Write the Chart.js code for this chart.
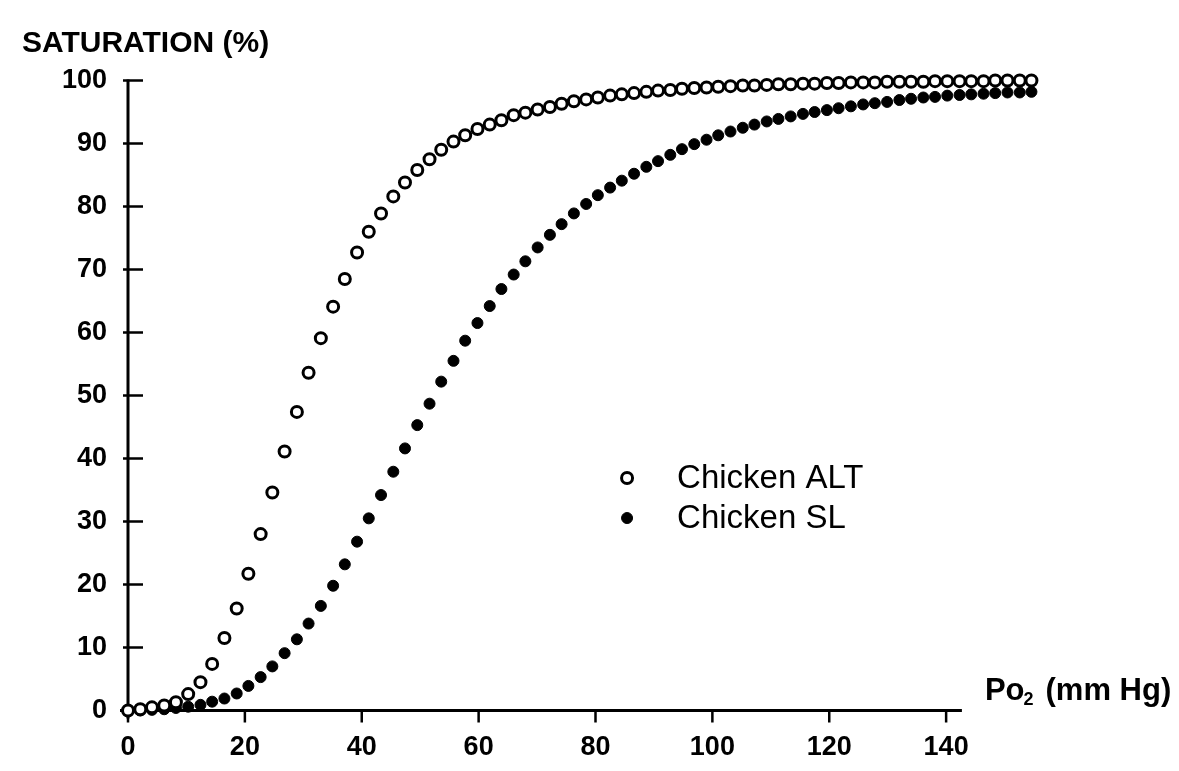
<!DOCTYPE html>
<html>
<head>
<meta charset="utf-8">
<script src="https://cdn.jsdelivr.net/npm/chart.js@4"></script>
<style>
  html, body { margin: 0; padding: 0; background: #fff; }
</style>
</head>
<body>
<canvas id="myChart" width="1179" height="771"></canvas>
<script>
// Po2 (mm Hg) of each plotted point
const po2 = [
  0, 2.1, 4.1, 6.2, 8.2, 10.3, 12.4, 14.4, 16.5, 18.6,
  20.6, 22.7, 24.7, 26.8, 28.9, 30.9, 33.0, 35.1, 37.1, 39.2,
  41.2, 43.3, 45.4, 47.4, 49.5, 51.6, 53.6, 55.7, 57.7, 59.8,
  61.9, 63.9, 66.0, 68.0, 70.1, 72.2, 74.2, 76.3, 78.4, 80.4,
  82.5, 84.5, 86.6, 88.7, 90.7, 92.8, 94.8, 96.9, 99.0, 101.0,
  103.1, 105.2, 107.2, 109.3, 111.3, 113.4, 115.5, 117.5, 119.6, 121.6,
  123.7, 125.8, 127.8, 129.9, 132.0, 134.0, 136.1, 138.1, 140.2, 142.3,
  144.3, 146.4, 148.4, 150.5, 152.6, 154.6
];

// saturation (%)
const chickenAlt = [
  0, 0.2, 0.5, 0.8, 1.3, 2.6, 4.5, 7.4, 11.5, 16.2,
  21.7, 28.0, 34.6, 41.1, 47.4, 53.6, 59.1, 64.1, 68.5, 72.7,
  76.0, 78.9, 81.6, 83.8, 85.8, 87.5, 89.0, 90.3, 91.3, 92.3,
  93.0, 93.7, 94.5, 94.9, 95.4, 95.8, 96.3, 96.7, 97.0, 97.3,
  97.6, 97.8, 98.0, 98.2, 98.4, 98.5, 98.7, 98.8, 98.9, 99.0,
  99.1, 99.2, 99.2, 99.3, 99.4, 99.4, 99.5, 99.5, 99.6, 99.6,
  99.7, 99.7, 99.7, 99.8, 99.8, 99.8, 99.8, 99.9, 99.9, 99.9,
  99.9, 99.9, 100, 100, 100, 100
];

const chickenSl = [
  0, 0, 0.1, 0.2, 0.4, 0.6, 0.9, 1.4, 1.9, 2.7,
  3.9, 5.3, 7.0, 9.1, 11.3, 13.8, 16.6, 19.8, 23.2, 26.8,
  30.5, 34.2, 37.9, 41.6, 45.3, 48.7, 52.2, 55.5, 58.7, 61.5,
  64.2, 66.9, 69.2, 71.3, 73.5, 75.5, 77.2, 78.9, 80.4, 81.8,
  83.0, 84.1, 85.2, 86.3, 87.2, 88.2, 89.1, 89.9, 90.6, 91.3,
  91.9, 92.5, 93.0, 93.5, 93.9, 94.3, 94.7, 95.0, 95.3, 95.6,
  95.9, 96.2, 96.4, 96.6, 96.9, 97.1, 97.3, 97.4, 97.6, 97.7,
  97.8, 97.9, 98.0, 98.1, 98.1, 98.2
];

const seriesNames = ['Chicken ALT', 'Chicken SL'];
const xTicks = [0, 20, 40, 60, 80, 100, 120, 140];
const yTicks = [0, 10, 20, 30, 40, 50, 60, 70, 80, 90, 100];

const FONT = '"Liberation Sans", Arial, Helvetica, sans-serif';

const toPoints = (vals) => vals.map((v, i) => ({ x: po2[i], y: v }));

// axis lines and crossing ticks, legend, x axis caption
const extras = {
  id: 'extras',
  beforeDatasetsDraw(chart) {
    const { ctx } = chart;
    const x = chart.scales.x, y = chart.scales.y;
    const x0 = x.getPixelForValue(0);
    const y0 = y.getPixelForValue(0);
    ctx.save();
    ctx.strokeStyle = '#000';
    ctx.lineWidth = 3;
    ctx.beginPath();
    ctx.moveTo(x0 - 8, y0);
    ctx.lineTo(x.getPixelForValue(142.7), y0);
    ctx.moveTo(x0, y0 + 8);
    ctx.lineTo(x0, y.getPixelForValue(100) - 1);
    ctx.stroke();

    ctx.lineWidth = 2.5;
    ctx.beginPath();
    yTicks.forEach(v => {
      const py = y.getPixelForValue(v);
      ctx.moveTo(x0 - 5, py);
      ctx.lineTo(x0 + 15, py);
    });
    xTicks.forEach(v => {
      const px = x.getPixelForValue(v);
      ctx.moveTo(px, y0);
      ctx.lineTo(px, y0 + 12);
    });
    ctx.stroke();
    ctx.restore();
  },
  afterDraw(chart) {
    const { ctx } = chart;
    const x = chart.scales.x, y = chart.scales.y;
    ctx.save();

    // legend
    const lx = x.getPixelForValue(85.4);
    let ly = y.getPixelForValue(36.9);
    ctx.font = '33px ' + FONT;
    ctx.textBaseline = 'middle';
    ctx.textAlign = 'left';
    chart.data.datasets.forEach(ds => {
      ctx.beginPath();
      ctx.arc(lx, ly, 5.5, 0, Math.PI * 2);
      ctx.fillStyle = ds.backgroundColor;
      ctx.fill();
      ctx.lineWidth = ds.borderWidth;
      ctx.strokeStyle = ds.borderColor;
      ctx.stroke();
      ctx.fillStyle = '#000';
      ctx.fillText(ds.label, lx + 50, ly + 1);
      ly += 40;
    });

    // x axis caption
    const cx = x.getPixelForValue(142.7) + 23;
    const cy = y.getPixelForValue(0) - 19;
    ctx.fillStyle = '#000';
    ctx.font = 'bold 31px ' + FONT;
    ctx.fillText('Po', cx, cy);
    const w1 = ctx.measureText('Po').width;
    ctx.font = 'bold 18px ' + FONT;
    ctx.fillText('2', cx + w1 - 1, cy + 9);
    ctx.font = 'bold 31px ' + FONT;
    ctx.fillText('(mm Hg)', cx + w1 + 21, cy);
    ctx.restore();
  }
};

const tickFont = { family: FONT, size: 27, weight: 'bold' };

new Chart(document.querySelector('#myChart'), {
  type: 'scatter',
  data: {
    datasets: [
      {
        label: seriesNames[0],
        data: toPoints(chickenAlt),
        pointStyle: 'circle',
        pointRadius: 5.5,
        borderWidth: 3,
        backgroundColor: '#fff',
        borderColor: '#000',
        clip: false
      },
      {
        label: seriesNames[1],
        data: toPoints(chickenSl),
        pointStyle: 'circle',
        pointRadius: 5.5,
        borderWidth: 1,
        backgroundColor: '#000',
        borderColor: '#000',
        clip: false
      }
    ]
  },
  options: {
    responsive: false,
    animation: false,
    layout: { padding: { left: 22, right: 116, top: 0, bottom: 0 } },
    plugins: {
      legend: { display: false },
      tooltip: { enabled: false },
      title: {
        display: true,
        text: 'SATURATION (%)',
        align: 'start',
        color: '#000',
        font: { family: FONT, size: 30, weight: 'bold', lineHeight: 1.2 },
        padding: { top: 26, bottom: 18.5 }
      }
    },
    scales: {
      x: {
        type: 'linear',
        min: 0,
        max: 160,
        grid: { display: false, drawTicks: false },
        border: { display: false },
        ticks: { color: '#000', font: tickFont, padding: 21, maxRotation: 0 },
        afterBuildTicks: (s) => { s.ticks = xTicks.map(v => ({ value: v })); },
        afterFit: (s) => { s.height = 60.5; }
      },
      y: {
        type: 'linear',
        min: 0,
        max: 100,
        grid: { display: false, drawTicks: false },
        border: { display: false },
        ticks: { color: '#000', font: tickFont, padding: 21 },
        afterBuildTicks: (s) => { s.ticks = yTicks.map(v => ({ value: v })); },
        afterFit: (s) => { s.width = 106; }
      }
    }
  },
  plugins: [extras]
});
</script>
</body>
</html>
